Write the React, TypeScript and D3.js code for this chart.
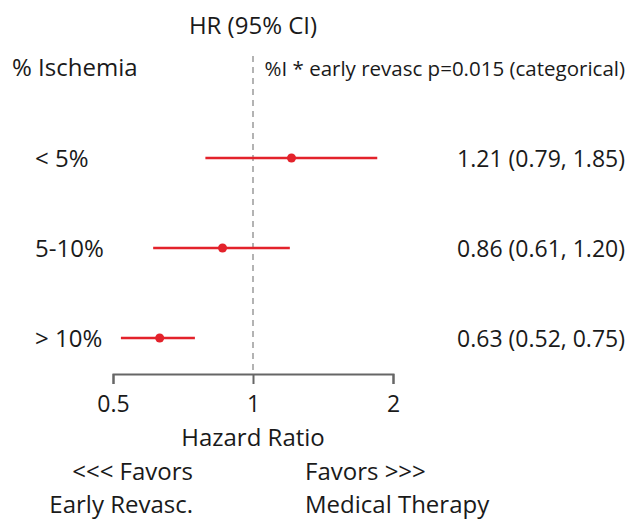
import React, { useEffect, useRef } from "react";
import * as d3 from "d3";

// data
const groups = ["< 5%", "5-10%", "> 10%"];
const hr = [1.21, 0.86, 0.63];
const lower = [0.79, 0.61, 0.52];
const upper = [1.85, 1.2, 0.75];
const tickValues = [0.5, 1, 2];

const ForestPlot = () => {
    const ref = useRef<SVGSVGElement | null>(null);

    useEffect(() => {
        const width = 629;
        const height = 523;
        const font = "'Open Sans', sans-serif";
        const ink = "#1a1a1a";
        const red = "#e3222b";

        const svg = d3.select(ref.current);
        svg.selectAll("*").remove();
        svg.attr("width", width).attr("height", height).attr("viewBox", `0 0 ${width} ${height}`);

        // Scaling
        const x = d3.scaleLog().base(2).domain([0.5, 2]).range([113, 393]);
        const y = d3.scalePoint().domain(groups).range([158, 338]);
        const axisY = 374;

        const rows = groups.map((g, i) => ({ g, hr: hr[i], lo: lower[i], hi: upper[i] }));

        // reference line at HR = 1
        svg.append("line")
            .attr("x1", x(1))
            .attr("x2", x(1))
            .attr("y1", 56)
            .attr("y2", axisY)
            .attr("stroke", "#9a9a9a")
            .attr("stroke-width", 1.5)
            .attr("stroke-dasharray", "6,5");

        // Axis
        const axis = svg.append("g")
            .attr("transform", `translate(0,${axisY})`)
            .call(
                d3.axisBottom(x)
                    .tickValues(tickValues)
                    .tickFormat((d) => String(d))
                    .tickSize(10)
                    .tickSizeOuter(10)
                    .tickPadding(12)
            );
        axis.attr("font-family", null).attr("font-size", null);
        axis.select(".domain").attr("stroke", "#666").attr("stroke-width", 2);
        axis.selectAll(".tick line").attr("stroke", "#666").attr("stroke-width", 2);
        axis.selectAll(".tick text")
            .attr("fill", ink)
            .style("font-family", font)
            .style("font-size", "23px");

        // CI segments and points
        const g = svg.append("g");
        g.selectAll("line.ci")
            .data(rows)
            .join("line")
            .attr("class", "ci")
            .attr("x1", (d) => x(d.lo))
            .attr("x2", (d) => x(d.hi))
            .attr("y1", (d) => y(d.g)!)
            .attr("y2", (d) => y(d.g)!)
            .attr("stroke", red)
            .attr("stroke-width", 2.5);
        g.selectAll("circle")
            .data(rows)
            .join("circle")
            .attr("cx", (d) => x(d.hr))
            .attr("cy", (d) => y(d.g)!)
            .attr("r", 4.5)
            .attr("fill", red);

        const text = (
            s: string,
            tx: number,
            ty: number,
            size: number,
            anchor = "start"
        ) =>
            svg.append("text")
                .attr("x", tx)
                .attr("y", ty)
                .attr("text-anchor", anchor)
                .attr("fill", ink)
                .style("font-family", font)
                .style("font-size", `${size}px`)
                .text(s);

        // row labels + estimates
        g.selectAll("text.lab")
            .data(rows)
            .join("text")
            .attr("class", "lab")
            .attr("x", 35)
            .attr("y", (d) => y(d.g)! + 8.5)
            .attr("fill", ink)
            .style("font-family", font)
            .style("font-size", "24px")
            .text((d) => d.g);
        g.selectAll("text.est")
            .data(rows)
            .join("text")
            .attr("class", "est")
            .attr("x", 625)
            .attr("y", (d) => y(d.g)! + 8.5)
            .attr("text-anchor", "end")
            .attr("fill", ink)
            .style("font-family", font)
            .style("font-size", "23px")
            .text((d) => `${d.hr.toFixed(2)} (${d.lo.toFixed(2)}, ${d.hi.toFixed(2)})`);

        text("HR (95% CI)", x(1), 34, 24, "middle");
        text("% Ischemia", 12, 76, 24);
        text("%I * early revasc p=0.015 (categorical)", 625, 76, 20.5, "end");
        text("Hazard Ratio", x(1), 446, 24, "middle");
        text("<<< Favors", 193, 480, 24, "end");
        text("Early Revasc.", 193, 513, 24, "end");
        text("Favors >>>", 305, 480, 24);
        text("Medical Therapy", 305, 513, 24);
    }, []);

    return <svg ref={ref} style={{ position: "absolute", left: 0, top: 0, background: "#fff" }} />;
};

export default function App() {
    return <ForestPlot />;
}
